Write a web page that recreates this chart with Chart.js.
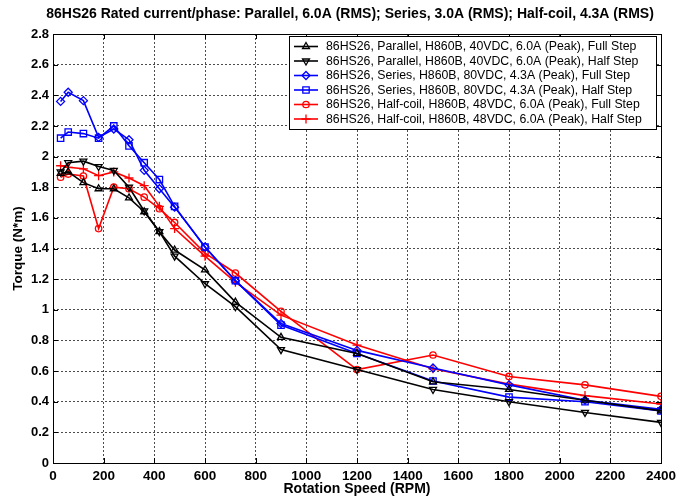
<!DOCTYPE html>
<html lang="en">
<head>
    <meta charset="UTF-8">
    <title>86HS26 Torque Curves</title>
    <script src="https://cdn.jsdelivr.net/npm/chart.js"></script>
    <style>
        body { margin: 0; background: #ffffff; }
    </style>
</head>
<body>
    <canvas id="torqueChart" width="688" height="500"></canvas>

    <script>
        // Chart data
        const speeds = [30, 60, 120, 180, 240, 300, 360, 420, 480, 600, 720, 900, 1200, 1500, 1800, 2100, 2400];

        const parallelFull = [1.89, 1.90, 1.83, 1.79, 1.79, 1.73, 1.64, 1.51, 1.39, 1.26, 1.05, 0.82, 0.715, 0.53, 0.48, 0.41, 0.34];
        const parallelHalf = [1.90, 1.96, 1.97, 1.935, 1.91, 1.80, 1.645, 1.51, 1.35, 1.17, 1.02, 0.74, 0.61, 0.48, 0.40, 0.33, 0.265];
        const seriesFull   = [2.36, 2.42, 2.365, 2.125, 2.18, 2.11, 1.91, 1.79, 1.67, 1.41, 1.19, 0.91, 0.735, 0.62, 0.51, 0.41, 0.35];
        const seriesHalf   = [2.12, 2.16, 2.15, 2.12, 2.20, 2.07, 1.96, 1.85, 1.675, 1.41, 1.19, 0.90, 0.715, 0.535, 0.43, 0.40, 0.34];
        const halfcoilFull = [1.865, 1.886, 1.873, 1.53, 1.80, 1.79, 1.735, 1.66, 1.57, 1.37, 1.24, 0.99, 0.61, 0.705, 0.565, 0.51, 0.435];
        const halfcoilHalf = [1.94, 1.93, 1.92, 1.875, 1.90, 1.86, 1.81, 1.675, 1.53, 1.35, 1.18, 0.965, 0.77, 0.615, 0.515, 0.44, 0.385];

        const seriesLabels = [
            '86HS26, Parallel, H860B, 40VDC, 6.0A (Peak), Full Step',
            '86HS26, Parallel, H860B, 40VDC, 6.0A (Peak), Half Step',
            '86HS26, Series, H860B, 80VDC, 4.3A (Peak), Full Step',
            '86HS26, Series, H860B, 80VDC, 4.3A (Peak), Half Step',
            '86HS26, Half-coil, H860B, 48VDC, 6.0A (Peak), Full Step',
            '86HS26, Half-coil, H860B, 48VDC, 6.0A (Peak), Half Step'
        ];

        const xTicks = [0, 200, 400, 600, 800, 1000, 1200, 1400, 1600, 1800, 2000, 2200, 2400];
        const yTicks = [0, 0.2, 0.4, 0.6, 0.8, 1, 1.2, 1.4, 1.6, 1.8, 2, 2.2, 2.4, 2.6, 2.8];

        const chartTitle = '86HS26 Rated current/phase: Parallel, 6.0A (RMS); Series, 3.0A (RMS); Half-coil, 4.3A (RMS)';

        const FONT = '"Liberation Sans", Arial, sans-serif';

        function toPoints(values) {
            return speeds.map((s, i) => ({ x: s, y: values[i] }));
        }

        function makeSet(label, values, color, style, radius, rotation) {
            return {
                label: label,
                data: toPoints(values),
                borderColor: color,
                borderWidth: 1.6,
                pointStyle: style,
                pointRadius: radius,
                pointRotation: rotation || 0,
                pointBorderColor: color,
                pointBorderWidth: 1.3,
                pointBackgroundColor: 'rgba(0,0,0,0)',
                fill: false,
                tension: 0
            };
        }

        // Frame, inward ticks, title and a MATLAB style legend
        const matlabPlugin = {
            id: 'matlabPlugin',
            afterDraw(chart) {
                const { ctx, chartArea: a, scales } = chart;
                const x = scales.x, y = scales.y;
                ctx.save();

                ctx.strokeStyle = '#000';
                ctx.lineWidth = 1;
                ctx.setLineDash([]);
                ctx.strokeRect(a.left + 0.5, a.top + 0.5, a.right - a.left, a.bottom - a.top);

                ctx.beginPath();
                xTicks.forEach(v => {
                    const px = Math.round(x.getPixelForValue(v)) + 0.5;
                    ctx.moveTo(px, a.bottom); ctx.lineTo(px, a.bottom - 5);
                    ctx.moveTo(px, a.top); ctx.lineTo(px, a.top + 5);
                });
                yTicks.forEach(v => {
                    const py = Math.round(y.getPixelForValue(v)) + 0.5;
                    ctx.moveTo(a.left, py); ctx.lineTo(a.left + 5, py);
                    ctx.moveTo(a.right, py); ctx.lineTo(a.right - 5, py);
                });
                ctx.stroke();

                // title
                ctx.fillStyle = '#000';
                ctx.font = 'bold 14px ' + FONT;
                ctx.textAlign = 'center';
                ctx.textBaseline = 'middle';
                ctx.fillText(chartTitle, 350, 14);

                // legend
                const boxRight = a.right - 5, boxTop = a.top + 2;
                const boxLeft = 289, rowH = 14.5;
                const sets = chart.data.datasets;
                const boxH = sets.length * rowH + 6;
                ctx.fillStyle = '#fff';
                ctx.fillRect(boxLeft, boxTop, boxRight - boxLeft, boxH);
                ctx.strokeStyle = '#000';
                ctx.lineWidth = 1;
                ctx.strokeRect(boxLeft + 0.5, boxTop + 0.5, boxRight - boxLeft, boxH);

                ctx.font = '12.3px ' + FONT;
                ctx.textAlign = 'left';
                sets.forEach((ds, i) => {
                    const cy = boxTop + 10.5 + i * rowH;
                    ctx.strokeStyle = ds.borderColor;
                    ctx.lineWidth = ds.borderWidth;
                    ctx.beginPath();
                    ctx.moveTo(boxLeft + 5, cy);
                    ctx.lineTo(boxLeft + 29, cy);
                    ctx.stroke();
                    ctx.fillStyle = 'rgba(0,0,0,0)';
                    ctx.lineWidth = ds.pointBorderWidth;
                    Chart.helpers.drawPoint(ctx, {
                        pointStyle: ds.pointStyle,
                        radius: ds.pointRadius,
                        rotation: ds.pointRotation,
                        borderWidth: ds.pointBorderWidth
                    }, boxLeft + 17, cy);
                    ctx.fillStyle = '#000';
                    ctx.fillText(ds.label, boxLeft + 37, cy + 0.5);
                });

                ctx.restore();
            }
        };

        function initializeTorqueChart() {
            const ctx = document.getElementById('torqueChart').getContext('2d');
            new Chart(ctx, {
                type: 'line',
                data: {
                    datasets: [
                        makeSet(seriesLabels[0], parallelFull, '#000000', 'triangle', 4, 0),
                        makeSet(seriesLabels[1], parallelHalf, '#000000', 'triangle', 4, 180),
                        makeSet(seriesLabels[2], seriesFull, '#0000ff', 'rectRot', 4, 0),
                        makeSet(seriesLabels[3], seriesHalf, '#0000ff', 'rect', 4.5, 0),
                        makeSet(seriesLabels[4], halfcoilFull, '#ff0000', 'circle', 3.2, 0),
                        makeSet(seriesLabels[5], halfcoilHalf, '#ff0000', 'cross', 4.5, 0)
                    ]
                },
                options: {
                    responsive: false,
                    animation: false,
                    layout: {
                        padding: { top: 34, right: 27, left: 0, bottom: 0 }
                    },
                    plugins: {
                        legend: { display: false },
                        title: { display: false },
                        tooltip: { enabled: false }
                    },
                    scales: {
                        x: {
                            type: 'linear',
                            min: 0,
                            max: 2400,
                            afterBuildTicks: scale => { scale.ticks = xTicks.map(v => ({ value: v })); },
                            afterFit: scale => { scale.height = 37; },
                            grid: {
                                color: '#000',
                                lineWidth: 0.7,
                                drawTicks: false
                            },
                            border: { display: false, dash: [2, 2] },
                            ticks: {
                                padding: 5,
                                color: '#000',
                                font: { family: FONT, size: 13.5, weight: 'bold' },
                                maxRotation: 0,
                                callback: v => String(v)
                            },
                            title: {
                                display: true,
                                text: 'Rotation Speed (RPM)',
                                color: '#000',
                                font: { family: FONT, size: 14, weight: 'bold' },
                                padding: { top: 0, bottom: 2 }
                            }
                        },
                        y: {
                            type: 'linear',
                            min: 0,
                            max: 2.8,
                            afterBuildTicks: scale => { scale.ticks = yTicks.map(v => ({ value: v })); },
                            afterFit: scale => { scale.width = 53; },
                            grid: {
                                color: '#000',
                                lineWidth: 0.7,
                                drawTicks: false
                            },
                            border: { display: false, dash: [2, 2] },
                            ticks: {
                                padding: 4,
                                color: '#000',
                                font: { family: FONT, size: 13, weight: 'bold' },
                                callback: v => String(v)
                            },
                            title: {
                                display: true,
                                text: 'Torque (N*m)',
                                color: '#000',
                                font: { family: FONT, size: 13.5, weight: 'bold' },
                                padding: { top: 10, bottom: 0 }
                            }
                        }
                    }
                },
                plugins: [matlabPlugin]
            });
        }

        initializeTorqueChart();
    </script>
</body>
</html>
